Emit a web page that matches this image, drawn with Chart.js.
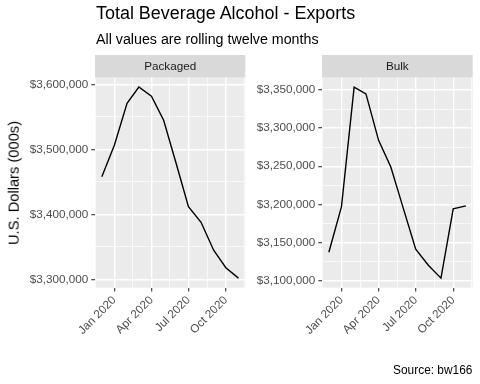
<!DOCTYPE html>
<html>
<head>
<meta charset="utf-8">
<script src="https://cdn.jsdelivr.net/npm/chart.js@4.4.1/dist/chart.umd.min.js"></script>
<style>
  body { margin: 0; background: #fff; font-family: "Liberation Sans", Arial, sans-serif; }
  #wrap { position: relative; width: 480px; height: 384px; overflow: hidden; }
  canvas { position: absolute; top: 0; }
  .txt { position: absolute; line-height: 1; white-space: nowrap; color: #000; }
</style>
</head>
<body>
<div id="wrap">
  <canvas id="packaged-chart" width="250" height="384" style="left:0"></canvas>
  <canvas id="bulk-chart" width="230" height="384" style="left:250px"></canvas>
  <div class="txt" style="left:96px; top:4.8px; font-size:17.95px">Total Beverage Alcohol - Exports</div>
  <div class="txt" style="left:96px; top:31.9px; font-size:14.25px">All values are rolling twelve months</div>
  <div class="txt" style="left:13.9px; top:182.6px; font-size:14.7px; transform:translate(-50%,-50%) rotate(-90deg)">U.S. Dollars (000s)</div>
  <div class="txt" style="right:7.6px; top:365.1px; font-size:11.9px">Source: bw166</div>
</div>
<script>
// Monthly rolling-twelve values
const months = ['2019-12', '2020-01', '2020-02', '2020-03', '2020-04', '2020-05',
                '2020-06', '2020-07', '2020-08', '2020-09', '2020-10', '2020-11'];
const packagedValues = [3458000, 3507000, 3571000, 3596000, 3582000, 3545000,
                        3478000, 3412000, 3388000, 3345000, 3318000, 3302000];
const bulkValues = [3137000, 3197000, 3354000, 3345000, 3284000, 3249000,
                    3194000, 3141000, 3120000, 3103000, 3194000, 3198000];
const xTickMonths = ['2020-01', '2020-04', '2020-07', '2020-10'];
const packagedTicks = [3300000, 3400000, 3500000, 3600000];
const bulkTicks = [3100000, 3150000, 3200000, 3250000, 3300000, 3350000];

const monthNames = ['Jan', 'Feb', 'Mar', 'Apr', 'May', 'Jun', 'Jul', 'Aug', 'Sep', 'Oct', 'Nov', 'Dec'];
const FONT = '"Liberation Sans", Arial, sans-serif';

// month string -> day number
function toDay(m) {
  return Date.UTC(+m.slice(0, 4), +m.slice(5, 7) - 1, 1) / 864e5;
}

function fmtMonth(day) {
  const d = new Date(day * 864e5);
  return monthNames[d.getUTCMonth()] + ' ' + d.getUTCFullYear();
}

// major ticks plus minor halfway lines (ggplot style), kept inside range
function withMinor(major, min, max) {
  const step = major[1] - major[0];
  const all = [];
  major.forEach(v => { all.push(v - step / 2); all.push(v); });
  all.push(major[major.length - 1] + step / 2);
  return all.filter(v => v >= min && v <= max);
}

function expandRange(vals) {
  const lo = Math.min(...vals), hi = Math.max(...vals);
  const pad = (hi - lo) * 0.05;
  return [lo - pad, hi + pad];
}

// Panel background + facet strip
const panelDecor = {
  id: 'panelDecor',
  beforeDraw(chart, args, opts) {
    const { ctx, chartArea: a } = chart;
    ctx.save();
    ctx.fillStyle = '#EBEBEB';
    ctx.fillRect(a.left, a.top, a.right - a.left, a.bottom - a.top);
    ctx.fillStyle = '#D9D9D9';
    ctx.fillRect(a.left, 55, a.right - a.left, a.top - 55);
    ctx.fillStyle = '#1A1A1A';
    ctx.font = '11.7px ' + FONT;
    ctx.textAlign = 'center';
    ctx.textBaseline = 'middle';
    ctx.fillText(opts.label, (a.left + a.right) / 2, (55 + a.top) / 2 + 0.5);
    ctx.restore();
  }
};

function createPanel(canvasId, label, values, yTicks, yWidth, rightPad) {
  const xDays = months.map(toDay);
  const xMajor = xTickMonths.map(toDay);
  const [xMin, xMax] = expandRange(xDays);
  const [yMin, yMax] = expandRange(values);
  // minor x lines sit halfway between quarters
  const xAll = [];
  xMajor.forEach((v, i) => {
    const step = i > 0 ? v - xMajor[i - 1] : xMajor[1] - xMajor[0];
    xAll.push(v - step / 2, v);
  });
  xAll.push(xMajor[xMajor.length - 1] + (xMajor[1] - xMajor[0]) / 2);
  const xTicksAll = xAll.filter(v => v >= xMin && v <= xMax);
  const yTicksAll = withMinor(yTicks, yMin, yMax);

  const ctx = document.getElementById(canvasId).getContext('2d');
  return new Chart(ctx, {
    type: 'line',
    data: {
      datasets: [{
        data: xDays.map((x, i) => ({ x: x, y: values[i] })),
        borderColor: '#000000',
        borderWidth: 1.4,
        pointRadius: 0,
        tension: 0,
        fill: false
      }]
    },
    plugins: [panelDecor],
    options: {
      responsive: false,
      animation: false,
      layout: { padding: { top: 77.5, right: rightPad, bottom: 0, left: 0 } },
      plugins: {
        legend: { display: false },
        tooltip: { enabled: false },
        panelDecor: { label: label }
      },
      scales: {
        x: {
          type: 'linear',
          min: xMin,
          max: xMax,
          border: { display: false },
          afterBuildTicks: s => { s.ticks = xTicksAll.map(v => ({ value: v })); },
          afterFit: s => { s.height = 96.3; s.paddingLeft = 0; s.paddingRight = 0; },
          grid: {
            color: '#FFFFFF',
            lineWidth: c => xMajor.includes(c.tick.value) ? 1.4 : 0.7,
            tickColor: c => xMajor.includes(c.tick.value) ? '#333333' : 'rgba(0,0,0,0)',
            tickWidth: 1.1,
            tickLength: 3.7
          },
          ticks: {
            autoSkip: false,
            minRotation: 45,
            maxRotation: 45,
            padding: 2,
            color: '#4D4D4D',
            font: { family: FONT, size: 11.7 },
            callback: v => xMajor.includes(v) ? fmtMonth(v) : ''
          }
        },
        y: {
          type: 'linear',
          min: yMin,
          max: yMax,
          border: { display: false },
          afterBuildTicks: s => { s.ticks = yTicksAll.map(v => ({ value: v })); },
          afterFit: s => { s.width = yWidth; s.paddingTop = 0; s.paddingBottom = 0; },
          grid: {
            color: '#FFFFFF',
            lineWidth: c => yTicks.includes(c.tick.value) ? 1.4 : 0.7,
            tickColor: c => yTicks.includes(c.tick.value) ? '#333333' : 'rgba(0,0,0,0)',
            tickWidth: 1.1,
            tickLength: 3.7
          },
          ticks: {
            autoSkip: false,
            padding: 3,
            color: '#4D4D4D',
            font: { family: FONT, size: 11.7 },
            callback: v => yTicks.includes(v) ? '$' + v.toLocaleString('en-US') : ''
          }
        }
      }
    }
  });
}

createPanel('packaged-chart', 'Packaged', packagedValues, packagedTicks, 95, 4.7);
createPanel('bulk-chart', 'Bulk', bulkValues, bulkTicks, 72, 7.3);
</script>
</body>
</html>
